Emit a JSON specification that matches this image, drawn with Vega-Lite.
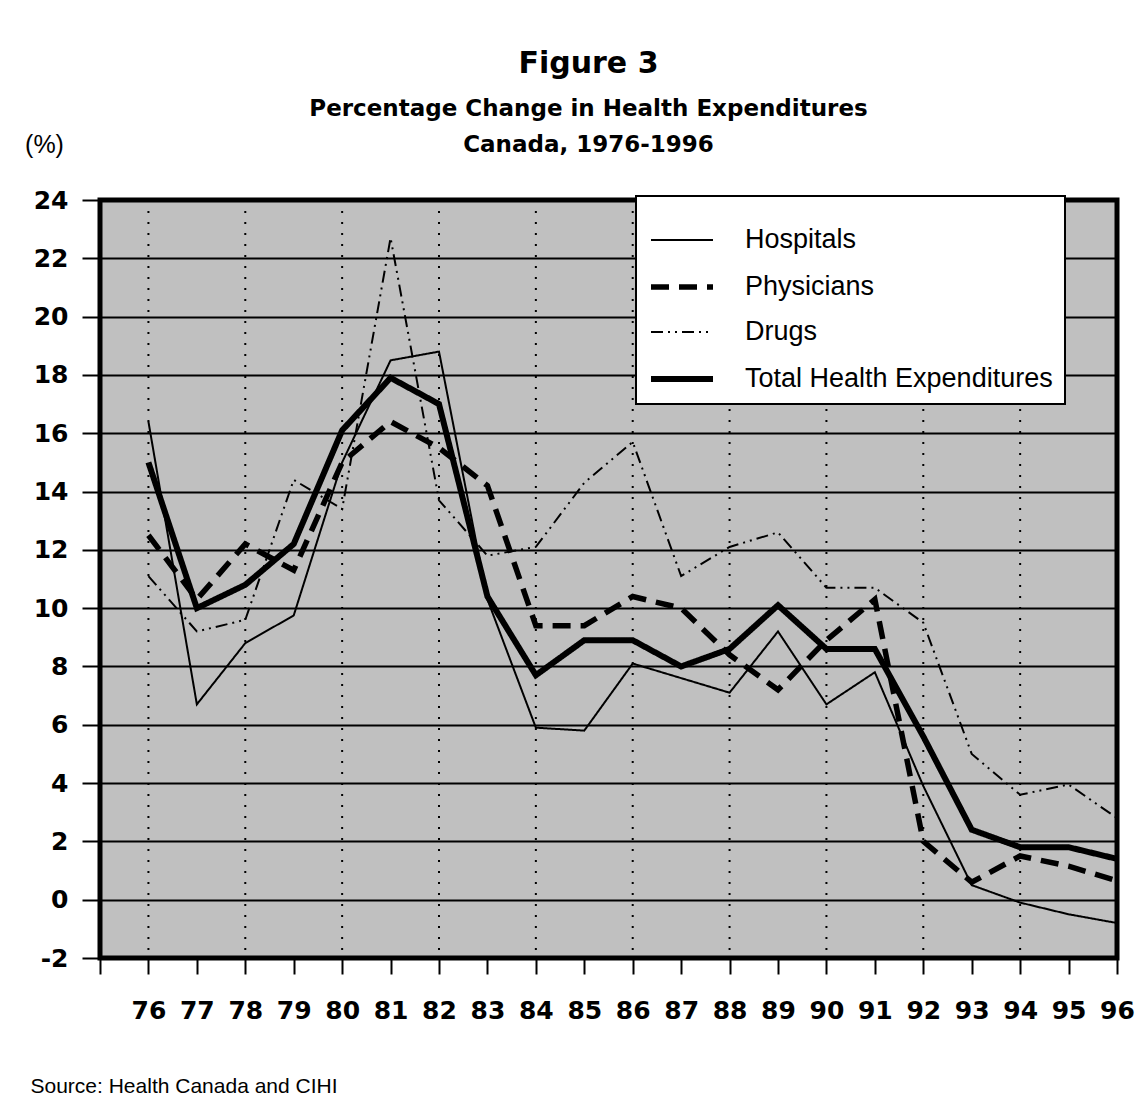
{
  "$schema": "https://vega.github.io/schema/vega-lite/v6.json",
  "autosize": {"type": "none"},
  "padding": {"left": 100, "top": 200, "right": 27, "bottom": 155},
  "width": 1017,
  "height": 758,
  "background": "white",
  "title": {
    "text": "Figure 3",
    "subtitle": ["Percentage Change in Health Expenditures", "Canada, 1976-1996"],
    "anchor": "middle",
    "frame": "group",
    "dx": -20,
    "offset": -25,
    "font": "DejaVu Sans",
    "fontSize": 30,
    "fontWeight": "bold",
    "color": "black",
    "subtitleFont": "DejaVu Sans",
    "subtitleFontSize": 23,
    "subtitleFontWeight": "bold",
    "subtitleColor": "black",
    "subtitleLineHeight": 36,
    "subtitlePadding": 19
  },
  "datasets": {
    "series": [
      {"year": 76, "series": "Hospitals", "value": 16.4},
      {"year": 77, "series": "Hospitals", "value": 6.7},
      {"year": 78, "series": "Hospitals", "value": 8.8},
      {"year": 79, "series": "Hospitals", "value": 9.75},
      {"year": 80, "series": "Hospitals", "value": 15.0},
      {"year": 81, "series": "Hospitals", "value": 18.5},
      {"year": 82, "series": "Hospitals", "value": 18.8},
      {"year": 83, "series": "Hospitals", "value": 10.3},
      {"year": 84, "series": "Hospitals", "value": 5.9},
      {"year": 85, "series": "Hospitals", "value": 5.8},
      {"year": 86, "series": "Hospitals", "value": 8.1},
      {"year": 87, "series": "Hospitals", "value": 7.6},
      {"year": 88, "series": "Hospitals", "value": 7.1},
      {"year": 89, "series": "Hospitals", "value": 9.2},
      {"year": 90, "series": "Hospitals", "value": 6.7},
      {"year": 91, "series": "Hospitals", "value": 7.8},
      {"year": 92, "series": "Hospitals", "value": 3.9},
      {"year": 93, "series": "Hospitals", "value": 0.5},
      {"year": 94, "series": "Hospitals", "value": -0.1},
      {"year": 95, "series": "Hospitals", "value": -0.5},
      {"year": 96, "series": "Hospitals", "value": -0.8},
      {"year": 76, "series": "Physicians", "value": 12.5},
      {"year": 77, "series": "Physicians", "value": 10.3},
      {"year": 78, "series": "Physicians", "value": 12.2},
      {"year": 79, "series": "Physicians", "value": 11.3},
      {"year": 80, "series": "Physicians", "value": 15.0},
      {"year": 81, "series": "Physicians", "value": 16.4},
      {"year": 82, "series": "Physicians", "value": 15.5},
      {"year": 83, "series": "Physicians", "value": 14.2},
      {"year": 84, "series": "Physicians", "value": 9.4},
      {"year": 85, "series": "Physicians", "value": 9.4},
      {"year": 86, "series": "Physicians", "value": 10.4},
      {"year": 87, "series": "Physicians", "value": 10.0},
      {"year": 88, "series": "Physicians", "value": 8.4},
      {"year": 89, "series": "Physicians", "value": 7.2},
      {"year": 90, "series": "Physicians", "value": 8.9},
      {"year": 91, "series": "Physicians", "value": 10.3},
      {"year": 92, "series": "Physicians", "value": 2.0},
      {"year": 93, "series": "Physicians", "value": 0.6},
      {"year": 94, "series": "Physicians", "value": 1.5},
      {"year": 95, "series": "Physicians", "value": 1.15},
      {"year": 96, "series": "Physicians", "value": 0.65},
      {"year": 76, "series": "Drugs", "value": 11.1},
      {"year": 77, "series": "Drugs", "value": 9.2},
      {"year": 78, "series": "Drugs", "value": 9.6},
      {"year": 79, "series": "Drugs", "value": 14.4},
      {"year": 80, "series": "Drugs", "value": 13.4},
      {"year": 81, "series": "Drugs", "value": 22.7},
      {"year": 82, "series": "Drugs", "value": 13.7},
      {"year": 83, "series": "Drugs", "value": 11.8},
      {"year": 84, "series": "Drugs", "value": 12.1},
      {"year": 85, "series": "Drugs", "value": 14.3},
      {"year": 86, "series": "Drugs", "value": 15.7},
      {"year": 87, "series": "Drugs", "value": 11.1},
      {"year": 88, "series": "Drugs", "value": 12.1},
      {"year": 89, "series": "Drugs", "value": 12.6},
      {"year": 90, "series": "Drugs", "value": 10.7},
      {"year": 91, "series": "Drugs", "value": 10.7},
      {"year": 92, "series": "Drugs", "value": 9.5},
      {"year": 93, "series": "Drugs", "value": 5.0},
      {"year": 94, "series": "Drugs", "value": 3.6},
      {"year": 95, "series": "Drugs", "value": 3.95},
      {"year": 96, "series": "Drugs", "value": 2.8},
      {"year": 76, "series": "Total Health Expenditures", "value": 15.0},
      {"year": 77, "series": "Total Health Expenditures", "value": 10.0},
      {"year": 78, "series": "Total Health Expenditures", "value": 10.8},
      {"year": 79, "series": "Total Health Expenditures", "value": 12.2},
      {"year": 80, "series": "Total Health Expenditures", "value": 16.1},
      {"year": 81, "series": "Total Health Expenditures", "value": 17.9},
      {"year": 82, "series": "Total Health Expenditures", "value": 17.0},
      {"year": 83, "series": "Total Health Expenditures", "value": 10.4},
      {"year": 84, "series": "Total Health Expenditures", "value": 7.7},
      {"year": 85, "series": "Total Health Expenditures", "value": 8.9},
      {"year": 86, "series": "Total Health Expenditures", "value": 8.9},
      {"year": 87, "series": "Total Health Expenditures", "value": 8.0},
      {"year": 88, "series": "Total Health Expenditures", "value": 8.6},
      {"year": 89, "series": "Total Health Expenditures", "value": 10.1},
      {"year": 90, "series": "Total Health Expenditures", "value": 8.6},
      {"year": 91, "series": "Total Health Expenditures", "value": 8.6},
      {"year": 92, "series": "Total Health Expenditures", "value": 5.6},
      {"year": 93, "series": "Total Health Expenditures", "value": 2.4},
      {"year": 94, "series": "Total Health Expenditures", "value": 1.8},
      {"year": 95, "series": "Total Health Expenditures", "value": 1.8},
      {"year": 96, "series": "Total Health Expenditures", "value": 1.4}
    ],
    "vgrid": [
      {"year": 76}, {"year": 78}, {"year": 80}, {"year": 82}, {"year": 84},
      {"year": 86}, {"year": 88}, {"year": 90}, {"year": 92}, {"year": 94}
    ]
  },
  "layer": [
    {
      "data": {"name": "vgrid"},
      "mark": {"type": "rule", "color": "black", "strokeWidth": 2, "strokeDash": [2, 9]},
      "encoding": {
        "x": {"field": "year", "type": "quantitative", "scale": {"domain": [75, 96], "nice": false, "zero": false}}
      }
    },
    {
      "data": {"name": "series"},
      "mark": {"type": "line", "color": "black", "strokeCap": "butt", "strokeJoin": "miter", "clip": false},
      "encoding": {
        "x": {
          "field": "year", "type": "quantitative",
          "scale": {"domain": [75, 96], "nice": false, "zero": false},
          "axis": {
            "values": [75,76,77,78,79,80,81,82,83,84,85,86,87,88,89,90,91,92,93,94,95,96],
            "labelExpr": "datum.value == 75 ? '' : datum.value",
            "grid": false, "domain": false,
            "ticks": true, "tickSize": 16, "tickWidth": 2, "tickColor": "black",
            "labelFont": "DejaVu Sans", "labelFontWeight": "bold", "labelFontSize": 25, "labelColor": "black",
            "labelPadding": 24, "labelFlush": false, "labelOverlap": false, "labelBound": false,
            "title": "Source: Health Canada and CIHI",
            "titleX": -70, "titleY": 134, "titleAlign": "left", "titleBaseline": "alphabetic",
            "titleFont": "Liberation Sans",
            "titleFontWeight": "normal", "titleFontSize": 21, "titleColor": "black"
          }
        },
        "y": {
          "field": "value", "type": "quantitative",
          "scale": {"domain": [-2, 24], "nice": false, "zero": false},
          "axis": {
            "values": [-2,0,2,4,6,8,10,12,14,16,18,20,22,24],
            "labelExpr": "datum.value < 0 ? '-' + abs(datum.value) : '' + datum.value",
            "grid": true, "gridColor": "black", "gridWidth": 2, "gridOpacity": 1,
            "domain": false,
            "ticks": true, "tickSize": 18, "tickWidth": 2, "tickColor": "black",
            "labelFont": "DejaVu Sans", "labelFontWeight": "bold", "labelFontSize": 25, "labelColor": "black",
            "labelPadding": 14, "labelOverlap": false, "labelBound": false, "labelFlush": false,
            "title": "(%)",
            "titleAngle": 0, "titleX": -56, "titleY": -48, "titleAlign": "center", "titleBaseline": "alphabetic",
            "titleFont": "Liberation Sans",
            "titleFontWeight": "normal", "titleFontSize": 25, "titleColor": "black"
          }
        },
        "strokeDash": {
          "field": "series", "type": "nominal",
          "scale": {
            "domain": ["Hospitals", "Physicians", "Drugs", "Total Health Expenditures"],
            "range": [[1, 0], [18, 10], [12, 5, 2, 5, 2, 5], [1, 0]]
          },
          "legend": {
            "title": null, "orient": "none", "legendX": 536, "legendY": -4,
            "padding": 12, "fillColor": "white", "strokeColor": "black",
            "symbolType": "stroke", "symbolSize": 3844, "symbolStrokeColor": "black",
            "labelFont": "Liberation Sans",
            "labelFontSize": 27, "labelColor": "black", "labelLimit": 500, "labelOffset": 29,
            "rowPadding": 0
          }
        },
        "strokeWidth": {
          "field": "series", "type": "nominal",
          "scale": {
            "type": "ordinal",
            "domain": ["Hospitals", "Physicians", "Drugs", "Total Health Expenditures"],
            "range": [2, 5.5, 2, 6]
          },
          "legend": {
            "title": null, "orient": "none", "legendX": 536, "legendY": -4,
            "padding": 12, "fillColor": "white", "strokeColor": "black",
            "symbolType": "stroke", "symbolSize": 3844, "symbolStrokeColor": "black",
            "labelFont": "Liberation Sans",
            "labelFontSize": 27, "labelColor": "black", "labelLimit": 500, "labelOffset": 29,
            "rowPadding": 0
          }
        }
      }
    }
  ],
  "config": {
    "view": {"fill": "#c0c0c0", "stroke": "black", "strokeWidth": 5},
    "legend": {"strokeWidth": 2}
  }
}
